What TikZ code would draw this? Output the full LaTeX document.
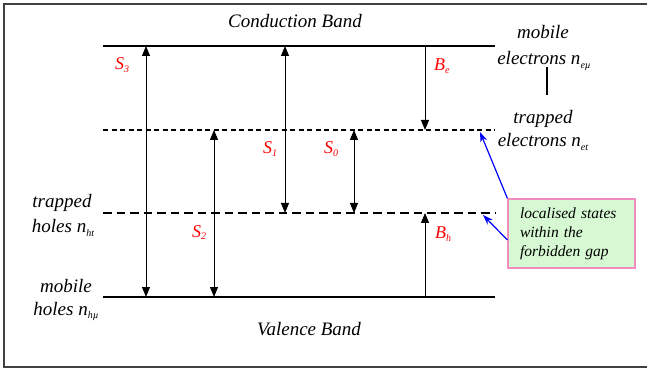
\documentclass[tikz,border=0pt]{standalone}
\usepackage{fontspec}
\setmainfont{Liberation Serif}
\usetikzlibrary{arrows.meta}
\newcommand\lsub[1]{\raisebox{-0.35ex}{\fontsize{10}{10}\selectfont #1}}
\definecolor{boxgreen}{HTML}{D6F8D2}
\definecolor{boxpink}{HTML}{F08CC0}
\begin{document}
\begin{tikzpicture}[x=1pt,y=-1pt,
  band/.style={line width=1.3pt},
  trapE/.style={line width=1.1pt, dash pattern=on 5pt off 3.5pt},
  trapH/.style={line width=1.1pt, dash pattern=on 8.5pt off 5pt},
  tip/.style={Triangle[length=10pt,width=8pt]},
  both/.style={line width=1pt, {Triangle[length=10pt,width=8pt]}-{Triangle[length=10pt,width=8pt]}},
  one/.style={line width=1pt, -{Triangle[length=10pt,width=8pt]}},
  lab/.style={font=\fontsize{19}{22}\selectfont\itshape, inner sep=0pt, anchor=base},
  rlab/.style={font=\fontsize{18}{22}\selectfont\itshape, text=red, inner sep=0pt, anchor=base west},
  blue arrow/.style={line width=1.2pt, blue, -{Stealth[length=10pt,width=7pt]}},
]
\useasboundingbox (0,0) rectangle (647,371);
% frame
\coordinate (fTR) at (650,4); \coordinate (fTL) at (4,4);
\coordinate (fBL) at (4,367); \coordinate (fBR) at (650,367);
\draw[line width=1.5pt, black!75] (fTR) -- (fTL) -- (fBL) -- (fBR);

% levels
\coordinate (cbL) at (103,46);  \coordinate (cbR) at (495,46);
\coordinate (teL) at (103,130); \coordinate (teR) at (495,130);
\coordinate (thL) at (103,213); \coordinate (thR) at (495,213);
\coordinate (vbL) at (103,297); \coordinate (vbR) at (495,297);
\draw[band] (cbL) -- (cbR);
\draw[trapE] (teL) -- (teR);
\draw[trapH] (thL) -- (thR);
\draw[band] (vbL) -- (vbR);

% transitions
\coordinate (s3t) at (146,46);  \coordinate (s3b) at (146,297);
\coordinate (s2t) at (214,130); \coordinate (s2b) at (214,297);
\coordinate (s1t) at (285,46);  \coordinate (s1b) at (285,213);
\coordinate (s0t) at (354,130); \coordinate (s0b) at (354,213);
\coordinate (bet) at (425,46);  \coordinate (beb) at (425,130);
\coordinate (bht) at (425,213); \coordinate (bhb) at (425,297);
\draw[both] (s3b) -- (s3t);
\draw[both] (s2b) -- (s2t);
\draw[both] (s1b) -- (s1t);
\draw[both] (s0b) -- (s0t);
\draw[one] (bet) -- (beb);
\draw[one] (bhb) -- (bht);

% red labels
\node[rlab] (S3) at (115,70) {S\lsub{3}};
\node[rlab] (S2) at (192,237) {S\lsub{2}};
\node[rlab] (S1) at (263,154) {S\lsub{1}};
\node[rlab] (S0) at (324,154) {S\lsub{0}};
\node[rlab] (Be) at (434,71) {B\lsub{e}};
\node[rlab] (Bh) at (435,239) {B\lsub{h}};

% band names
\node[lab] (cb) at (295,28) {Conduction Band};
\node[lab] (vb) at (309,335) {Valence Band};

% right labels
\node[lab] (me1) at (543,39) {mobile};
\node[lab] (me2) at (544,65) {electrons n\lsub{e\textmu}};
\coordinate (vlt) at (547,67); \coordinate (vlb) at (547,95);
\draw[line width=1.1pt] (vlt) -- (vlb);
\node[lab] (te1) at (543,124) {trapped};
\node[lab] (te2) at (543,147) {electrons n\lsub{et}};

% left labels
\node[lab] (th1) at (62,208) {trapped};
\node[lab] (th2) at (63,233) {holes n\lsub{ht}};
\node[lab] (mh1) at (66,292) {mobile};
\node[lab] (mh2) at (66,315) {holes n\lsub{h\textmu}};

% note box
\node[draw=boxpink, fill=boxgreen, line width=1.2pt,
      minimum width=127pt, minimum height=69pt, text width=103pt,
      inner xsep=12pt, align=left,
      font=\fontsize{15.5}{19}\selectfont\itshape] (box) at (571.5,233.5)
  {localised states\\within the\\forbidden gap};
\coordinate (teA) at (480,132);
\coordinate (thA) at (483,215);
\draw[blue arrow] (box.north west) -- (teA);
\draw[blue arrow] ([yshift=-6.5pt]box.west) -- (thA);
\end{tikzpicture}
\end{document}
